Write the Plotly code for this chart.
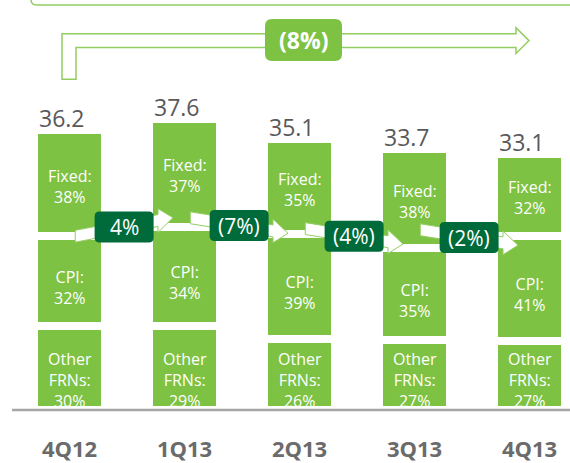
import plotly.graph_objects as go

# ---------------- data ----------------
quarters = ["4Q12", "1Q13", "2Q13", "3Q13", "4Q13"]
totals = [36.2, 37.6, 35.1, 33.7, 33.1]
fixed_pct = [38, 37, 35, 38, 32]
cpi_pct = [32, 34, 39, 35, 41]
other_pct = [30, 29, 26, 27, 27]
qoq_labels = ["4%", "(7%)", "(4%)", "(2%)"]
qoq_values = [4, -7, -4, -2]
overall_label = "(8%)"

# ---------------- style ----------------
GREEN = "#7dc242"
DARK = "#006b3a"
OUTLINE = "#93cd62"
GRAY_TXT = "#595959"
TICK_TXT = "#6b6b6b"
FONT = "Open Sans"
W, H = 570, 463
MB = 49
PLOT_H = H - MB
PX_PER_UNIT = 7.81
X0_PX, X_STEP = 69.5, 115.0

xs = list(range(len(quarters)))
other_v = [t * p / 100 for t, p in zip(totals, other_pct)]
cpi_v = [t * p / 100 for t, p in zip(totals, cpi_pct)]
fixed_v = [t * p / 100 for t, p in zip(totals, fixed_pct)]

fig = go.Figure()
bar_kw = dict(width=0.617, marker=dict(color=GREEN, line=dict(color="white", width=8)),
              hoverinfo="skip", showlegend=False)
fig.add_trace(go.Bar(x=xs, y=other_v, name="Other FRNs", **bar_kw))
fig.add_trace(go.Bar(x=xs, y=cpi_v, name="CPI", **bar_kw))
fig.add_trace(go.Bar(x=xs, y=fixed_v, name="Fixed", **bar_kw))

ann = []
shapes = []

# segment labels
for i in xs:
    o, c, f = other_v[i], cpi_v[i], fixed_v[i]
    lab_font = dict(family=FONT, size=16, color="white")
    ann.append(dict(x=i, y=0, text=f"Other<br>FRNs:<br>{other_pct[i]}%", showarrow=False,
                    font=lab_font, yanchor="middle", yshift=30))
    ann.append(dict(x=i, y=o + c / 2, text=f"CPI:<br>{cpi_pct[i]}%", showarrow=False,
                    font=lab_font, yanchor="middle", yshift=-6))
    ann.append(dict(x=i, y=o + c + f / 2, text=f"Fixed:<br>{fixed_pct[i]}%", showarrow=False,
                    font=lab_font, yanchor="middle", yshift=-3))
    ann.append(dict(x=i, y=totals[i], text=f"{totals[i]:.1f}", showarrow=False,
                    font=dict(family=FONT, size=23, color=GRAY_TXT),
                    xanchor="left", xshift=-33, yanchor="bottom", yshift=-6))

# quarter-over-quarter arrows
bounds = [o + c for o, c in zip(other_v, cpi_v)]
HL = 15 / X_STEP        # head length (x units)
BT = 6 / PX_PER_UNIT    # band half thickness
HH = 12 / PX_PER_UNIT   # head half height


def rrect(w, h, r):
    a, b = w / 2, h / 2
    return (f"M {-a + r},{-b} L {a - r},{-b} Q {a},{-b} {a},{-b + r} L {a},{b - r} "
            f"Q {a},{b} {a - r},{b} L {-a + r},{b} Q {-a},{b} {-a},{b - r} "
            f"L {-a},{-b + r} Q {-a},{-b} {-a + r},{-b} Z")


for i in range(len(qoq_labels)):
    mid_y = (bounds[i] + bounds[i + 1]) / 2 + 0.6
    rise = 2.4 if qoq_values[i] > 0 else -2.0
    x0, x1 = i + 0.05, i + 0.9
    y0, y1 = mid_y - rise / 2, mid_y + rise / 2
    xb = x1 - HL
    yb = y0 + (y1 - y0) * (xb - x0) / (x1 - x0)
    path = (f"M {x0},{y0 - BT} L {xb},{yb - BT} L {xb},{yb - HH} L {x1},{y1} "
            f"L {xb},{yb + HH} L {xb},{yb + BT} L {x0},{y0 + BT} Z")
    shapes.append(dict(type="path", xref="x", yref="y", path=path,
                       fillcolor="white", line=dict(color=OUTLINE, width=1), layer="above"))
    mx = (x0 + x1) / 2
    shapes.append(dict(type="path", xref="x", yref="y", xsizemode="pixel", ysizemode="pixel",
                       xanchor=mx, yanchor=mid_y, path=rrect(59, 31, 5),
                       fillcolor=DARK, line=dict(width=0), layer="above"))
    ann.append(dict(x=mx, y=mid_y, text=qoq_labels[i], showarrow=False,
                    font=dict(family=FONT, size=21, color="white"), yanchor="middle"))


def px(xp):
    return xp / W


def py(yp):
    return 1 - yp / PLOT_H


# baseline
shapes.append(dict(type="line", xref="paper", yref="paper", x0=px(12), x1=1.02, y0=0, y1=0,
                   line=dict(color="#a5a5a5", width=2.5), layer="above"))

# top rounded frame edge
shapes.append(dict(type="path", xref="paper", yref="paper",
                   path=f"M {px(31)},{py(-8)} L {px(31)},{py(0)} Q {px(31)},{py(5)} {px(37)},{py(5)} L {px(575)},{py(5)}",
                   line=dict(color=OUTLINE, width=1.5)))

# overall bracket arrow
br = [(62, 80), (62, 34), (516, 34), (516, 28), (529, 41), (516, 54), (516, 48), (76, 48), (76, 80)]
bpath = "M " + " L ".join(f"{px(a)},{py(b)}" for a, b in br) + " Z"
shapes.append(dict(type="path", xref="paper", yref="paper", path=bpath,
                   fillcolor="white", line=dict(color=OUTLINE, width=1.5)))
shapes.append(dict(type="path", xref="paper", yref="paper", xsizemode="pixel", ysizemode="pixel",
                   xanchor=px(303.5), yanchor=py(40.5), path=rrect(77, 42, 7),
                   fillcolor=GREEN, line=dict(width=0)))
ann.append(dict(xref="paper", yref="paper", x=px(303.5), y=py(40.5), text=overall_label,
                showarrow=False, font=dict(family=FONT, size=23, color="white", weight="bold"),
                yanchor="middle"))

x_lo = -X0_PX / X_STEP
x_hi = (W - X0_PX) / X_STEP
fig.update_layout(
    width=W, height=H, margin=dict(l=0, r=0, t=0, b=MB),
    barmode="stack", bargap=0,
    paper_bgcolor="white", plot_bgcolor="white",
    annotations=ann, shapes=shapes,
    xaxis=dict(range=[x_lo, x_hi], tickvals=xs, ticktext=quarters, ticks="outside",
               ticklen=20, tickcolor="rgba(0,0,0,0)", showgrid=False, zeroline=False,
               showline=False, fixedrange=True,
               tickfont=dict(family=FONT, size=22, color=TICK_TXT, weight="bold")),
    yaxis=dict(range=[0, PLOT_H / PX_PER_UNIT], visible=False, fixedrange=True),
)
fig.write_html("out.html", config={"displayModeBar": False},
               post_script="document.body.style.margin='0';document.body.style.overflow='hidden';")
